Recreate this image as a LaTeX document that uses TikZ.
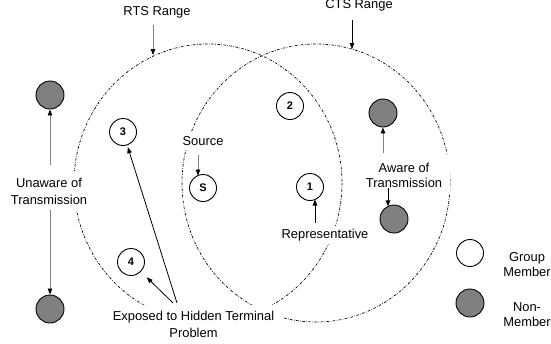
\documentclass[tikz,border=0pt]{standalone}
\usepackage{fontspec}
\setmainfont{Liberation Sans}
\usetikzlibrary{arrows.meta}
\begin{document}
\begin{tikzpicture}[x=1pt,y=-1pt,
  rangeline/.style={dash pattern=on 2.5pt off 1.5pt on 0.6pt off 1.5pt, line width=0.7pt},
  member/.style={circle,draw,line width=0.9pt,minimum size=27pt,inner sep=0pt,fill=white,font=\fontsize{11}{11}\selectfont\bfseries},
  nonmember/.style={circle,draw,line width=0.9pt,minimum size=28pt,inner sep=0pt,fill=gray},
  lbl/.style={fill=white,align=center,inner sep=3pt,font=\fontsize{12.9}{17}\selectfont},
  lbltight/.style={lbl,font=\fontsize{12.9}{15}\selectfont},
  arr/.style={line width=0.8pt,-{Triangle[length=6pt,width=4.5pt]}},
  garr/.style={line width=0.8pt,draw=gray,-{Triangle[length=6pt,width=4.5pt,color=black]}}
]
\useasboundingbox (0,0) rectangle (551,343);

% ranges
\draw[rangeline] (208,183) ellipse [x radius=134, y radius=139];
\draw[rangeline] (316,183) ellipse [x radius=134, y radius=139];

% labels
\node[lbl,anchor=base] (rts) at (157,15) {RTS Range};
\node[lbl,anchor=base] (cts) at (359,8) {CTS Range};
\node[lbl,anchor=base,inner sep=4pt] (src) at (203,145) {Source};
\node[lbl,anchor=base] (rep) at (325,238) {Representative};
\node[lbl,anchor=north,inner xsep=3pt,inner ysep=7pt] (unaware) at (49,170.5) {Unaware of\\Transmission};
\node[lbltight,anchor=north,inner sep=8pt] (aware) at (404,154.5) {Aware of\\Transmission};
\node[lbl,anchor=north,inner xsep=10pt,inner ysep=6pt] (exposed) at (193.5,304.5) {Exposed to Hidden Terminal\\Problem};
\node[lbltight,anchor=north] (grp) at (527,249.5) {Group\\Member};
\node[lbltight,anchor=north] (non) at (527,299.5) {Non-\\Member};

% nodes
\node[nonmember] (g1) at (50,95) {};
\node[nonmember] (g2) at (50,309) {};
\node[member] (n3) at (123,132) {3};
\node[member] (n4) at (131,262) {4};
\node[member] (S) at (203,188) {S};
\node[member] (n2) at (290,106) {2};
\node[member] (n1) at (310,187) {1};
\node[nonmember] (g3) at (383,113) {};
\node[nonmember] (g4) at (394,219) {};
\node[member] (lm) at (470,253) {};
\node[nonmember] (ln) at (470,303) {};

% connector ends
\coordinate (rtsA) at (153,25);
\coordinate (rtsB) at (153,55);
\coordinate (ctsA) at (352,20);
\coordinate (ctsB) at (352,49);
\coordinate (srcA) at (198,155);
\coordinate (srcB) at (198,175.5);
\coordinate (ua1) at (50,165);
\coordinate (ua2) at (50,210);
\coordinate (ex1) at (177,303);
\coordinate (ex2) at (173,303);
\coordinate (aw1) at (383,153);
\coordinate (aw2) at (388,188);
\coordinate (aw2B) at (388,206.4);
\coordinate (rp) at (315,223);
\coordinate (rpB) at (315,199.5);

% connectors
\draw[garr] (rtsA) -- (rtsB);
\draw[arr] (ctsA) -- (ctsB);
\draw[garr] (srcA) -- (srcB);
\draw[garr] (ua1) -- (g1.south);
\draw[garr] (ua2) -- (g2.north);
\draw[arr,shorten >=2pt] (ex1) -- (n3);
\draw[arr,shorten >=8pt] (ex2) -- (n4);
\draw[garr] (aw1) -- (g3.south);
\draw[arr] (aw2) -- (aw2B);
\draw[arr] (rp) -- (rpB);
\end{tikzpicture}
\end{document}
